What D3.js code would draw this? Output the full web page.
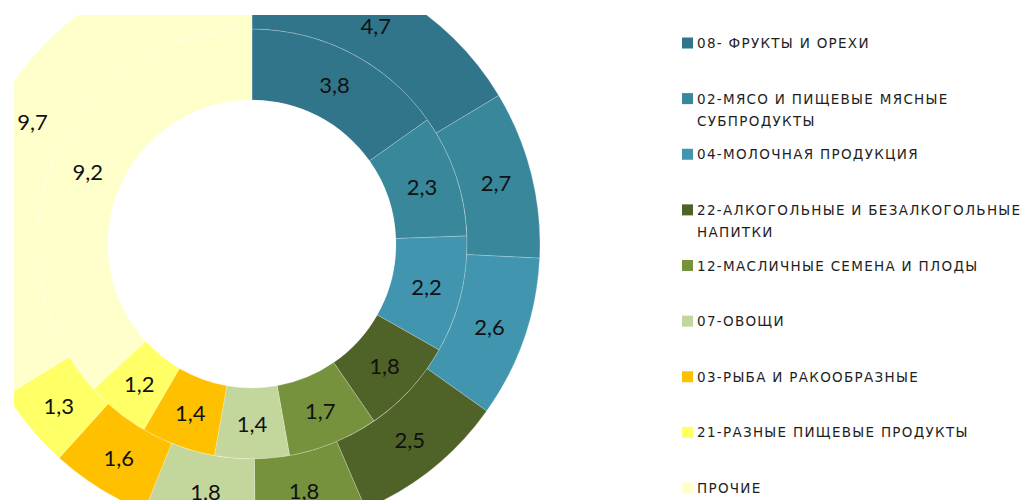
<!DOCTYPE html>
<html>
<head>
<meta charset="utf-8">
<script src="https://cdn.jsdelivr.net/npm/d3@7"></script>
<style>
  body { margin: 0; background: #fff; }
</style>
</head>
<body>
<div id="chart"></div>
<script>
// categories (legend text, line breaks as in the original)
const categories = [
    ["08- ФРУКТЫ И ОРЕХИ"],
    ["02-МЯСО И ПИЩЕВЫЕ МЯСНЫЕ", "СУБПРОДУКТЫ"],
    ["04-МОЛОЧНАЯ ПРОДУКЦИЯ"],
    ["22-АЛКОГОЛЬНЫЕ И БЕЗАЛКОГОЛЬНЫЕ", "НАПИТКИ"],
    ["12-МАСЛИЧНЫЕ СЕМЕНА И ПЛОДЫ"],
    ["07-ОВОЩИ"],
    ["03-РЫБА И РАКООБРАЗНЫЕ"],
    ["21-РАЗНЫЕ ПИЩЕВЫЕ ПРОДУКТЫ"],
    ["ПРОЧИЕ"]
];
const innerValues = [3.8, 2.3, 2.2, 1.8, 1.7, 1.4, 1.4, 1.2, 9.2];
const outerValues = [4.7, 2.7, 2.6, 2.5, 1.8, 1.8, 1.6, 1.3, 9.7];
const colors = ["#31758a", "#38879b", "#4195ae", "#4f6228", "#76923c", "#c3d69b", "#ffc000", "#ffff66", "#ffffcc"];

const width = 1025;
const height = 500;
const cx = 252;
const cy = 244;
const rHole = 144;
const rMid = 215;
const rOut = 288;

const svg = d3.select("#chart")
    .append("svg")
    .attr("width", width)
    .attr("height", height)
    .style("font-family", "Lato, sans-serif");

svg.append("clipPath")
    .attr("id", "plotClip")
    .append("rect")
    .attr("x", 14)
    .attr("y", 15)
    .attr("width", 640)
    .attr("height", 500);

const plot = svg.append("g").attr("clip-path", "url(#plotClip)")
    .append("g")
    .attr("transform", "translate(" + cx + "," + cy + ")");

const pie = d3.pie().sort(null).value(d => d);
const fmt = v => String(v).replace(".", ",");

function drawRing(values, r0, r1, cls) {
    const arc = d3.arc().innerRadius(r0).outerRadius(r1);
    const arcs = pie(values);
    plot.selectAll("path." + cls)
        .data(arcs)
        .enter()
        .append("path")
        .attr("class", cls)
        .attr("d", arc)
        .attr("fill", (d, i) => colors[i])
        .attr("stroke", "#ffffff")
        .attr("stroke-opacity", 0.22)
        .attr("stroke-width", 1);
    plot.selectAll("text." + cls)
        .data(arcs)
        .enter()
        .append("text")
        .attr("class", cls)
        .attr("x", d => arc.centroid(d)[0])
        .attr("y", d => arc.centroid(d)[1])
        .attr("text-anchor", "middle")
        .attr("dominant-baseline", "central")
        .style("font-size", "22px")
        .attr("fill", "#111")
        .text(d => fmt(d.data));
}

drawRing(innerValues, rHole, rMid, "inner");
drawRing(outerValues, rMid, rOut, "outer");

// legend
const legend = svg.append("g").attr("transform", "translate(682,0)");
const itemY = d3.scaleLinear().domain([0, categories.length - 1]).range([43, 488]);
categories.forEach((lines, i) => {
    const y = itemY(i);
    legend.append("rect")
        .attr("x", 0)
        .attr("y", y - 5.5)
        .attr("width", 11)
        .attr("height", 11)
        .attr("fill", colors[i]);
    lines.forEach((line, k) => {
        legend.append("text")
            .attr("x", 15)
            .attr("y", y + k * 22)
            .attr("dominant-baseline", "central")
            .style("font-family", "'DejaVu Sans', sans-serif")
            .style("font-size", "13.5px")
            .style("letter-spacing", "1.3px")
            .attr("fill", "#1e1e1e")
            .text(line);
    });
});
</script>
</body>
</html>
